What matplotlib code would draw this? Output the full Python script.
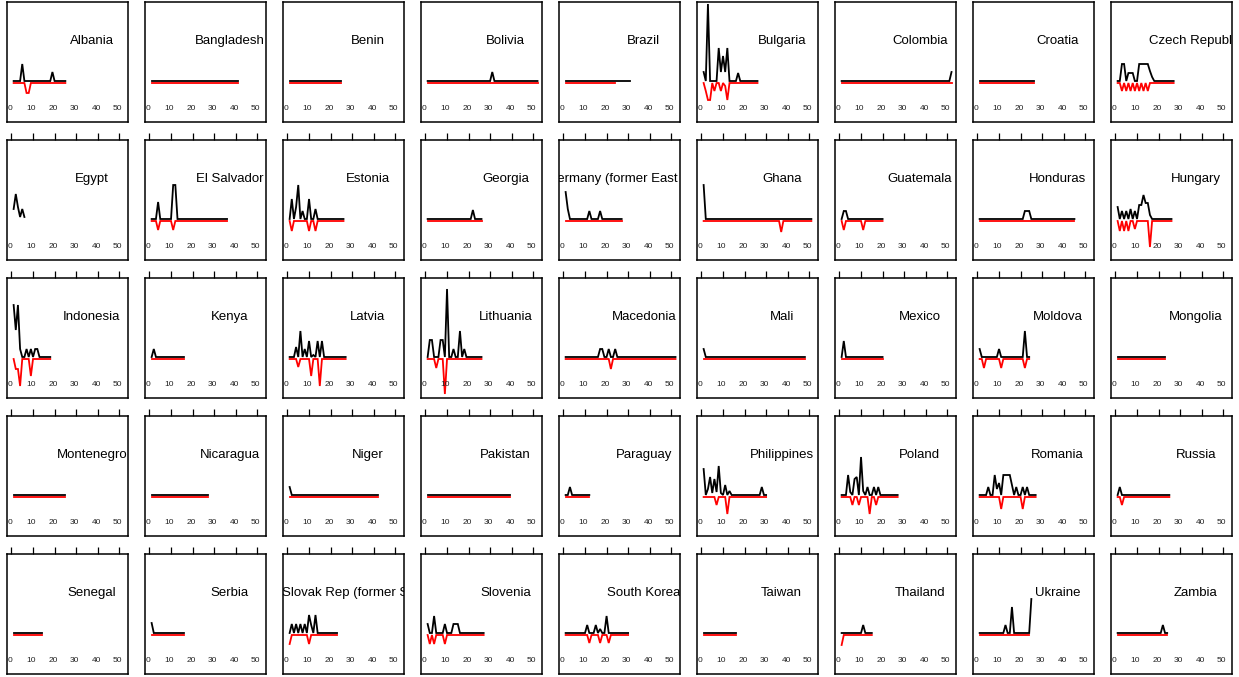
import matplotlib
matplotlib.use("Agg")
import matplotlib.pyplot as plt
from matplotlib.transforms import offset_copy

plt.rcParams['font.family'] = ['Liberation Sans', 'DejaVu Sans']

countries = [
    "Albania", "Bangladesh", "Benin", "Bolivia", "Brazil", "Bulgaria", "Colombia", "Croatia", "Czech Republic",
    "Egypt", "El Salvador", "Estonia", "Georgia", "Germany (former East Germany)", "Ghana", "Guatemala", "Honduras", "Hungary",
    "Indonesia", "Kenya", "Latvia", "Lithuania", "Macedonia", "Mali", "Mexico", "Moldova", "Mongolia",
    "Montenegro", "Nicaragua", "Niger", "Pakistan", "Paraguay", "Philippines", "Poland", "Romania", "Russia",
    "Senegal", "Serbia", "Slovak Rep (former Slovakia)", "Slovenia", "South Korea", "Taiwan", "Thailand", "Ukraine", "Zambia",
]

# number of observed periods (x = 1..n) for the black (positive) and red (negative) series
black_len = [25, 41, 25, 52, 31, 26, 52, 26, 27,
             6, 36, 26, 26, 27, 51, 20, 45, 26,
             18, 16, 27, 26, 52, 48, 20, 24, 23,
             25, 27, 42, 39, 12, 30, 27, 27, 25,
             14, 16, 23, 27, 30, 16, 15, 25, 24]
red_len = [25, 41, 25, 52, 24, 26, 52, 26, 27,
           0, 36, 26, 26, 27, 51, 20, 45, 26,
           18, 16, 27, 26, 52, 48, 20, 24, 23,
           25, 27, 42, 39, 12, 30, 27, 27, 25,
           14, 16, 23, 27, 30, 16, 15, 24, 24]

# non-zero values {x: value}; everything else is 0
black_pts = {
    "Albania": {5: 1.7, 19: 0.9},
    "Bolivia": {31: 0.9},
    "Bulgaria": {1: 0.9, 3: 7.7, 8: 3.3, 9: 0.9, 10: 2.5, 11: 0.9, 12: 3.3, 17: 0.8},
    "Colombia": {52: 0.9},
    "Czech Republic": {3: 1.7, 4: 1.7, 6: 0.8, 7: 0.8, 8: 0.8, 11: 1.7, 12: 1.7, 13: 1.7, 14: 1.7, 15: 1.7, 16: 1.0, 17: 0.4},
    "Egypt": {1: 1.0, 2: 2.5, 3: 1.2, 4: 0.2, 5: 1.0, 6: 0.2},
    "El Salvador": {4: 1.7, 11: 3.4, 12: 3.4},
    "Estonia": {2: 2.0, 4: 1.2, 5: 3.4, 7: 0.8, 10: 2.0, 13: 1.0},
    "Georgia": {22: 0.9},
    "Germany (former East Germany)": {1: 2.7, 2: 1.0, 12: 0.8, 17: 0.8},
    "Ghana": {1: 3.4},
    "Guatemala": {2: 0.8, 3: 0.8},
    "Honduras": {22: 0.8, 23: 0.8, 24: 0.8},
    "Hungary": {1: 1.2, 3: 0.8, 5: 0.8, 7: 1.0, 9: 0.8, 11: 1.4, 12: 1.4, 13: 2.4, 14: 1.6, 15: 1.6, 16: 0.4},
    "Indonesia": {1: 5.2, 2: 2.7, 3: 5.2, 4: 0.8, 7: 0.8, 9: 0.8, 11: 0.8, 12: 0.8},
    "Kenya": {2: 0.8},
    "Latvia": {4: 1.0, 6: 2.6, 8: 0.8, 10: 1.6, 12: 0.2, 14: 1.6, 16: 1.6},
    "Lithuania": {2: 1.7, 3: 1.7, 7: 1.7, 8: 1.7, 10: 6.8, 13: 0.8, 16: 2.6, 18: 0.8},
    "Macedonia": {17: 0.8, 18: 0.8, 21: 0.8, 24: 0.8},
    "Mali": {1: 0.8},
    "Mexico": {2: 1.6},
    "Moldova": {1: 0.8, 10: 0.8, 22: 2.6},
    "Niger": {1: 0.8},
    "Paraguay": {3: 0.8},
    "Philippines": {1: 2.6, 3: 0.6, 4: 1.8, 5: 0.2, 6: 1.6, 7: 0.3, 8: 2.9, 9: 0.2, 11: 1.0, 13: 0.4, 28: 0.8},
    "Poland": {4: 2.0, 5: 0.3, 7: 1.6, 8: 1.8, 10: 3.8, 11: 0.4, 13: 0.8, 16: 0.8, 18: 0.8},
    "Romania": {5: 0.8, 8: 2.0, 9: 0.6, 10: 1.2, 12: 2.0, 13: 2.0, 14: 2.0, 15: 2.0, 16: 1.0, 18: 0.8, 21: 0.8, 23: 0.8},
    "Russia": {2: 0.8},
    "Serbia": {1: 1.0},
    "Slovak Rep (former Slovakia)": {2: 0.9, 4: 0.9, 6: 0.9, 8: 0.9, 10: 1.8, 11: 0.8, 13: 1.8},
    "Slovenia": {1: 0.9, 4: 1.7, 9: 0.9, 13: 0.9, 14: 0.9, 15: 0.9},
    "South Korea": {11: 0.8, 15: 0.8, 17: 0.4, 20: 1.7},
    "Thailand": {11: 0.8},
    "Ukraine": {13: 0.8, 16: 2.6, 25: 3.4},
    "Zambia": {22: 0.8},
}
red_pts = {
    "Albania": {7: -1.0, 8: -1.0},
    "Bulgaria": {2: -0.8, 3: -1.7, 4: -1.7, 6: -0.8, 9: -0.8, 11: -0.3, 12: -1.7},
    "Czech Republic": {3: -0.8, 5: -0.8, 7: -0.8, 9: -0.8, 11: -0.8, 13: -0.8, 15: -0.8},
    "El Salvador": {4: -0.9, 11: -0.9},
    "Estonia": {2: -1.0, 10: -1.0, 13: -1.0},
    "Ghana": {37: -1.1},
    "Guatemala": {2: -0.9, 11: -0.9},
    "Hungary": {2: -1.0, 4: -1.0, 6: -1.0, 9: -0.8, 16: -2.6},
    "Indonesia": {2: -1.0, 3: -1.0, 4: -2.7, 9: -1.7},
    "Latvia": {5: -0.8, 11: -1.7, 15: -2.7},
    "Lithuania": {5: -0.9, 9: -3.5},
    "Macedonia": {22: -1.0},
    "Moldova": {3: -0.9, 11: -0.9, 22: -0.9},
    "Philippines": {7: -0.8, 12: -1.7},
    "Poland": {6: -0.8, 9: -0.8, 14: -1.7, 17: -0.8},
    "Romania": {11: -1.2, 21: -1.2},
    "Russia": {3: -0.8},
    "Slovak Rep (former Slovakia)": {1: -0.9, 10: -0.9},
    "Slovenia": {2: -0.9, 4: -0.9, 9: -0.9},
    "South Korea": {12: -0.8, 17: -0.8, 21: -0.8},
    "Thailand": {1: -1.0},
}

tick_values = [0, 10, 20, 30, 40, 50]

W, H = 1239, 677
fig = plt.figure(figsize=(W / 100, H / 100), dpi=100)

ncol = 9
for i, name in enumerate(countries):
    r, c = divmod(i, ncol)
    left = (7 + 138 * c) / W
    top = (2 + 138 * r) / H
    ax = fig.add_axes([left, 1 - top - 120 / H, 121 / W, 120 / H])
    ax.set_xlim(-2.08, 54.08)
    ax.set_ylim(-4, 8)

    nb = black_len[i]
    if nb:
        xs = list(range(1, nb + 1))
        ys = [black_pts.get(name, {}).get(x, 0.0) for x in xs]
        ax.plot(xs, ys, color='black', lw=1.3, solid_joinstyle='miter',
                transform=offset_copy(ax.transData, fig=fig, y=1.0, units='dots'))
    nr = red_len[i]
    if nr:
        xs = list(range(1, nr + 1))
        ys = [red_pts.get(name, {}).get(x, 0.0) for x in xs]
        ax.plot(xs, ys, color='red', lw=1.3, solid_joinstyle='miter',
                transform=offset_copy(ax.transData, fig=fig, y=-1.0, units='dots'))

    ax.text(0.70, 0.675, name, transform=ax.transAxes, ha='center', va='center',
            fontsize=9.5, clip_on=True)
    for t in tick_values:
        ax.text(t, -2.6, str(t), ha='center', va='center', fontsize=6, color='#222222',
                transform=offset_copy(ax.transData, fig=fig, x=-1.5, units='dots'))

    ax.set_yticks([])
    ax.xaxis.set_ticks_position('top')
    ax.set_xticks(tick_values)
    ax.set_xticklabels([])
    if r == 0:
        ax.tick_params(axis='x', length=0)
    else:
        ax.tick_params(axis='x', direction='out', length=5, width=0.9, color='black')
    for s in ax.spines.values():
        s.set_linewidth(1.1)
        s.set_color('black')

fig.savefig("out.png", dpi=100)
